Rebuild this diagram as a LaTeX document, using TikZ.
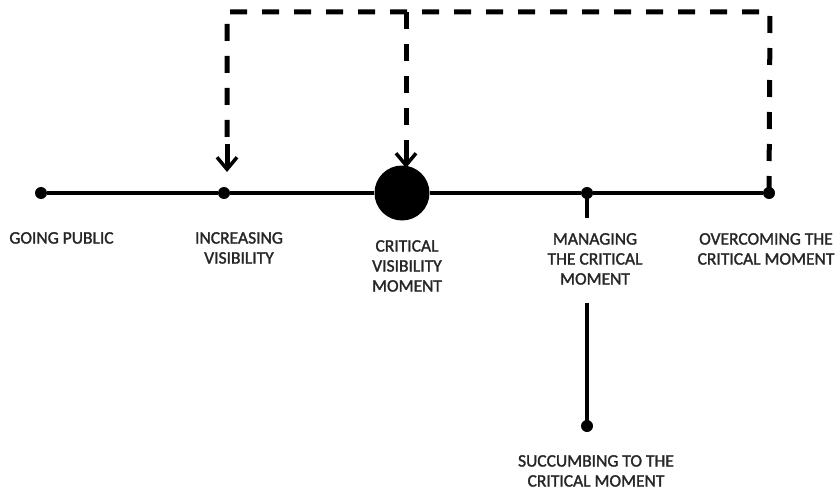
\documentclass[tikz,border=0pt]{standalone}
\usepackage{fontspec}
\setmainfont{Carlito}[FakeBold=1.6]
\usetikzlibrary{arrows.meta}
\begin{document}
\begin{tikzpicture}[x=1pt,y=-1pt,
  dot/.style={circle,fill=black,inner sep=0pt,minimum size=12pt},
  bigdot/.style={circle,fill=black,inner sep=0pt,minimum size=55pt},
  solidline/.style={line width=4pt},
  dashline/.style={line width=5pt,dash pattern=on 17pt off 15pt},
  arr/.style={-{Straight Barb[length=12pt,width=20pt,line width=3.5pt]}},
  lbl/.style={anchor=north,inner sep=0pt,align=center,text=black!85,
    font=\fontsize{17.5}{20}\selectfont}]
\useasboundingbox (0,0) rectangle (840,492);
% points on the line
\node[dot] (gp) at (41,193) {};
\node[dot] (inc) at (224,193) {};
\node[bigdot] (crit) at (402,193) {};
\node[dot] (man) at (587,193) {};
\node[dot] (over) at (769,193) {};
\node[dot] (suc) at (587,426) {};
% main line
\draw[solidline] (gp) -- (inc) -- (crit) -- (man) -- (over);
% branch down
\coordinate (b1) at (587,218);
\coordinate (b2) at (587,303);
\draw[solidline] (man.center) -- (b1);
\draw[solidline] (b2) -- (suc.center);
% dashed feedback
\coordinate (tr) at (770,12);
\coordinate (tl) at (227,12);
\coordinate (tm) at (406,12);
\coordinate (ia) at (227,172);
\coordinate (ca) at (406,168);
\coordinate (is) at (227,144);
\coordinate (cs) at (406,144);
\draw[dashline] (over.center) -- (tr) -- (tl) -- (is);
\draw[dashline] (tm) -- (cs);
\draw[line width=5pt,arr] (is) -- (ia);
\draw[line width=5pt,arr] (cs) -- (ca);
% labels
\node[lbl] (tgp) at (61.5,232) {GOING PUBLIC};
\node[lbl] (tinc) at (239,232) {INCREASING\\VISIBILITY};
\node[lbl] (tcrit) at (407,240) {CRITICAL\\VISIBILITY\\MOMENT};
\node[lbl] (tman) at (595,233) {MANAGING\\THE CRITICAL\\MOMENT};
\node[lbl] (tover) at (766,233) {OVERCOMING THE\\CRITICAL MOMENT};
\node[lbl] (tsuc) at (596,455) {SUCCUMBING TO THE\\CRITICAL MOMENT};
\end{tikzpicture}
\end{document}
